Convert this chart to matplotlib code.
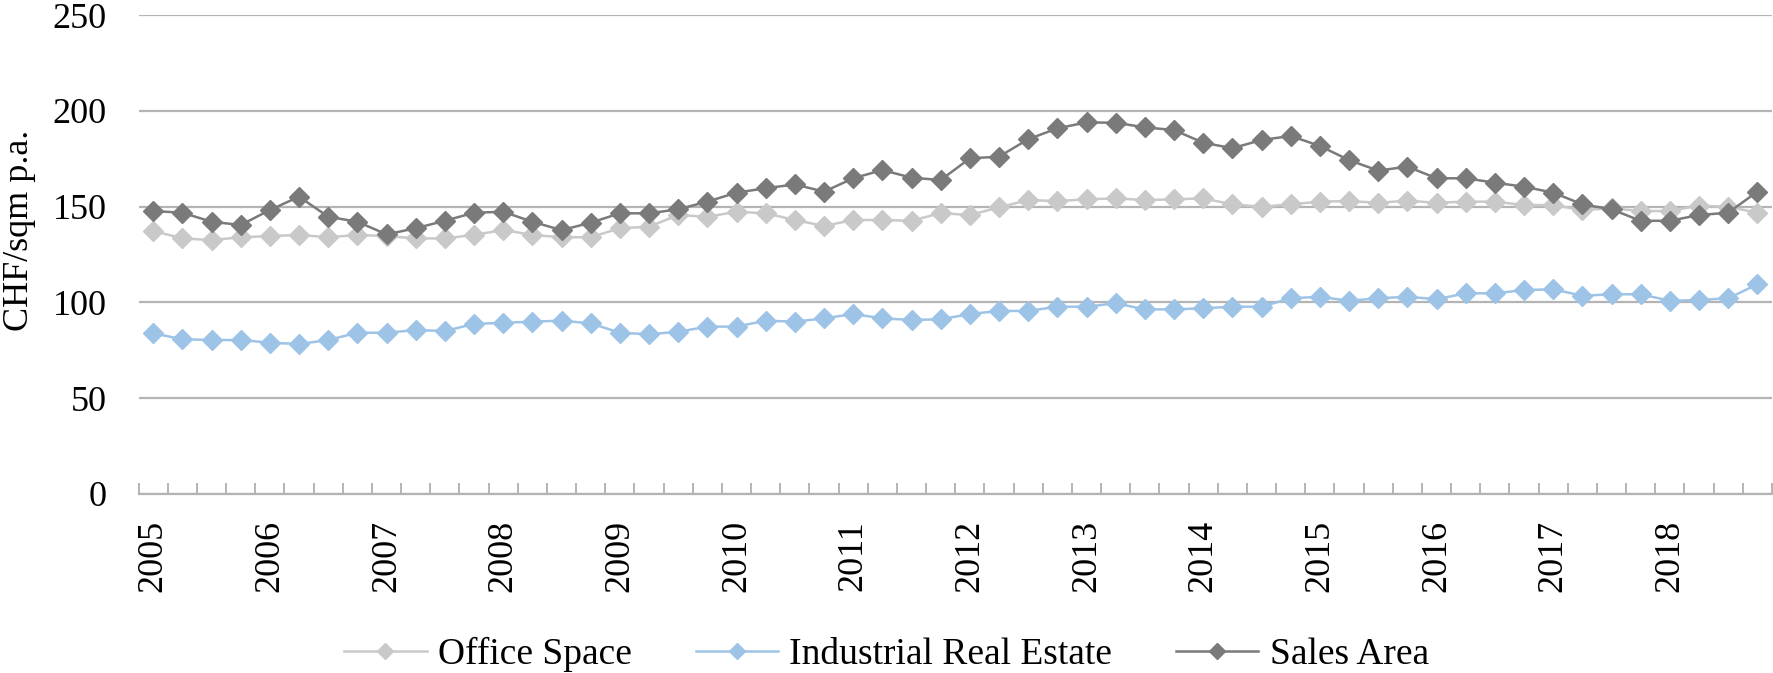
import matplotlib
matplotlib.use("Agg")
import matplotlib.pyplot as plt
import numpy as np

# Dados trimestrais 2005 Q1 - 2018 Q4 (CHF/sqm p.a.)
anos = list(range(2005, 2019))
office = [137.3, 133.4, 132.5, 134.0, 134.6, 135.2, 134.0, 135.2, 134.6, 133.4,
          133.4, 135.2, 137.8, 135.2, 134.0, 134.0, 138.7, 139.5, 145.6, 144.7,
          147.3, 146.5, 143.0, 139.9, 143.0, 143.0, 142.6, 146.6, 145.6, 149.6,
          153.4, 152.9, 153.8, 154.3, 153.4, 153.8, 154.3, 151.2, 149.9, 151.2,
          152.6, 152.9, 152.0, 153.1, 152.0, 152.6, 152.6, 150.8, 150.8, 148.2,
          149.1, 147.7, 147.7, 150.5, 149.9, 146.8]
industrial = [83.8, 80.7, 80.3, 80.3, 78.9, 78.2, 80.3, 84.1, 84.1, 85.5,
              85.0, 88.7, 89.3, 89.9, 90.4, 89.0, 84.1, 83.3, 84.6, 87.3,
              87.3, 90.4, 89.9, 91.6, 93.9, 91.6, 90.8, 91.1, 93.9, 95.5,
              95.5, 97.7, 97.7, 99.5, 96.3, 96.3, 96.9, 97.7, 97.7, 102.1,
              102.9, 100.8, 102.1, 102.9, 101.6, 104.7, 104.7, 106.4, 106.8, 103.4,
              104.2, 104.2, 100.8, 101.2, 102.1, 109.4]
sales = [147.7, 146.8, 142.1, 140.4, 148.2, 155.2, 144.7, 142.1, 135.5, 138.7,
         142.6, 146.8, 147.3, 142.1, 137.7, 141.6, 146.5, 146.5, 148.6, 152.6,
         157.3, 159.6, 161.6, 157.8, 164.8, 169.1, 165.1, 163.9, 175.2, 176.1,
         185.2, 190.9, 194.0, 193.8, 191.4, 190.0, 183.4, 180.5, 184.8, 186.9,
         181.7, 174.3, 168.8, 170.9, 164.8, 164.8, 162.5, 160.4, 157.3, 151.2,
         148.6, 142.6, 142.6, 145.6, 146.8, 157.8]

plt.rcParams["font.family"] = ["Liberation Serif", "DejaVu Serif"]

fig = plt.figure(figsize=(17.73, 6.73), dpi=100)
ax = fig.add_axes([0.0782, 0.2664, 0.9212, 0.711])

x = np.arange(len(office))
estilo = dict(marker="D", markersize=10, linewidth=1.8)
ax.plot(x, office, color="#C9C9C9", label="Office Space", zorder=3, **estilo)
ax.plot(x, industrial, color="#9DC3E6", label="Industrial Real Estate", zorder=3, **estilo)
ax.plot(x, sales, color="#7A7A7A", label="Sales Area", zorder=4, **estilo)

# Eixos
ax.set_xlim(-0.5, len(x) - 0.5)
ax.set_ylim(0, 250)
ax.set_yticks(np.arange(0, 251, 50))
ax.yaxis.grid(True, color="#B4B4B4", linewidth=1.6)
ax.set_axisbelow(True)
for lado in ["top", "right", "left"]:
    ax.spines[lado].set_visible(False)
ax.spines["bottom"].set_color("#B4B4B4")
ax.spines["bottom"].set_linewidth(1.6)
ax.spines["bottom"].set_zorder(2)

ax.set_xticks(np.arange(0, len(x), 4))
ax.set_xticklabels([str(a) for a in anos], rotation=90)
ax.set_xticks(np.arange(-0.5, len(x), 1), minor=True)
ax.tick_params(axis="x", which="major", length=0, pad=19, labelsize=26)
ax.tick_params(axis="x", which="minor", direction="in", length=8, width=1.4, color="#B4B4B4")
ax.tick_params(axis="y", length=0, pad=23, labelsize=26)

fig.text(0.011, 0.657, "CHF/sqm p.a.", rotation=90, fontsize=26, ha="center", va="center")

leg = ax.legend(loc="center", ncol=3, frameon=False, fontsize=27, handlelength=2.2,
                columnspacing=1.7, handletextpad=0.3, markerscale=0.85, borderaxespad=0)
leg.set_bbox_to_anchor((0.5, 0.027), transform=fig.transFigure)

fig.savefig("out.png", dpi=100)
